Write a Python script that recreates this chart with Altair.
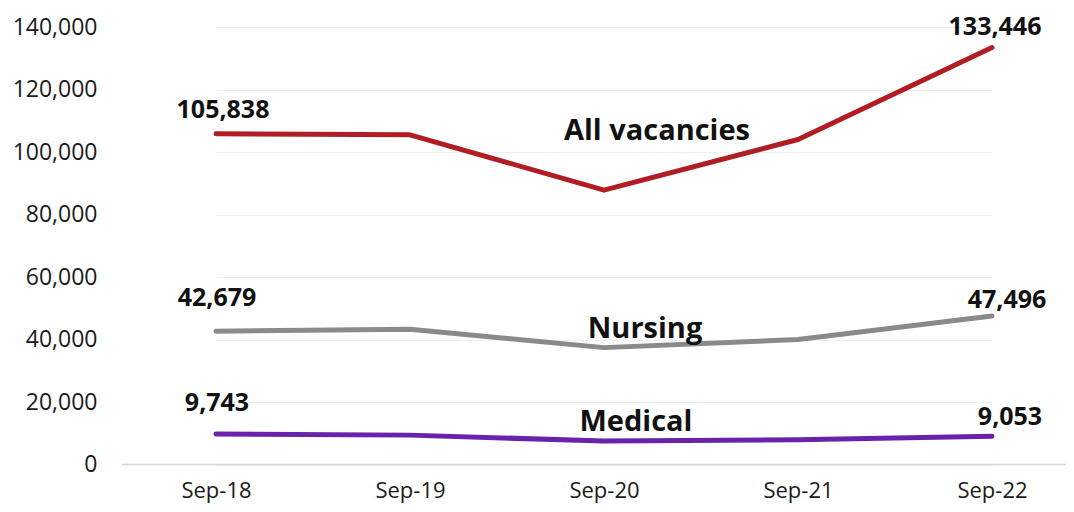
import altair as alt
import pandas as pd

periods = ["Sep-18", "Sep-19", "Sep-20", "Sep-21", "Sep-22"]
series_names = ["All vacancies", "Nursing", "Medical"]
all_vacancies = [105838, 105500, 87800, 104000, 133446]
nursing = [42679, 43300, 37400, 40000, 47496]
medical = [9743, 9400, 7500, 7900, 9053]
colors = ["#B01E24", "#8A8A8A", "#6A22AC"]
y_ticks = [0, 20000, 40000, 60000, 80000, 100000, 120000, 140000]

rows = []
for name, vals in zip(series_names, [all_vacancies, nursing, medical]):
    for p, v in zip(periods, vals):
        rows.append({"period": p, "series": name, "value": v})
df = pd.DataFrame(rows)

FONT = "Open Sans"

x_enc = alt.X("period:N", sort=periods,
              scale=alt.Scale(type="point", domain=periods, range=[94, 870], padding=0),
              axis=alt.Axis(title=None, domain=False, ticks=False, grid=False,
                            labelAngle=0, labelFont=FONT, labelFontSize=22,
                            labelColor="#1a1a1a", labelPadding=16))
y_enc = alt.Y("value:Q", scale=alt.Scale(domain=[0, 140000], nice=False),
              axis=alt.Axis(title=None, domain=False, ticks=False, values=y_ticks,
                            labelExpr="datum.value == 0 ? '0' : (datum.value / 1000) + ',000'",
                            gridColor="#efefef", gridWidth=1,
                            labelFont=FONT, labelFontSize=23, labelColor="#1a1a1a",
                            labelPadding=25))

base = alt.Chart(df)

zero_rule = alt.Chart(pd.DataFrame({"value": [0]})).mark_rule(
    color="#d6d6d6", strokeWidth=1.5).encode(y=y_enc)

lines = base.mark_line(strokeWidth=5, strokeCap="round", strokeJoin="round").encode(
    x=x_enc, y=y_enc,
    color=alt.Color("series:N", scale=alt.Scale(domain=series_names, range=colors), legend=None),
    detail="series:N",
)

def value_label(series, period, dx, dy):
    return base.transform_filter(
        (alt.datum.series == series) & (alt.datum.period == period)
    ).mark_text(font=FONT, fontWeight="bold", fontSize=25, color="#111111",
                dx=dx, dy=dy, baseline="middle", align="center").encode(
        x=x_enc, y=y_enc, text=alt.Text("value:Q", format=","))

def series_label(series, dx, dy):
    return base.transform_filter(
        (alt.datum.series == series) & (alt.datum.period == "Sep-20")
    ).mark_text(font=FONT, fontWeight="bold", fontSize=29, color="#111111",
                dx=dx, dy=dy, baseline="middle", align="center").encode(
        x=x_enc, y=y_enc, text="series:N")

labels = [
    value_label("All vacancies", "Sep-18", 7, -24),
    value_label("All vacancies", "Sep-22", 3, -20),
    value_label("Nursing", "Sep-18", 1, -33),
    value_label("Nursing", "Sep-22", 15, -16),
    value_label("Medical", "Sep-18", 1, -31),
    value_label("Medical", "Sep-22", 18, -19),
    series_label("All vacancies", 53, -59),
    series_label("Nursing", 41, -19),
    series_label("Medical", 32, -19),
]

chart = alt.layer(zero_rule, lines, *labels).properties(
    width=944, height=437.5,
    autosize=alt.AutoSizeParams(type="none"),
    padding={"left": 114, "top": 19, "right": 0, "bottom": 39.5},
    background="white",
).configure_view(stroke=None)

chart.save("out.html", embed_options={"renderer": "svg", "actions": False})
